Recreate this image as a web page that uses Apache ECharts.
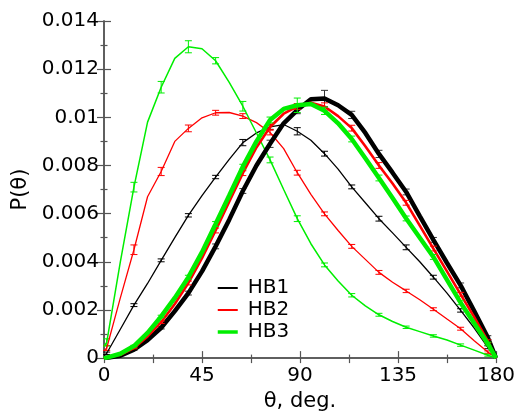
<!DOCTYPE html>
<html>
<head>
<meta charset="utf-8">
<script src="https://cdn.jsdelivr.net/npm/echarts@6/dist/echarts.min.js"></script>
<style>html,body{margin:0;padding:0;background:#fff}#c{width:520px;height:417px}</style>
</head>
<body>
<div id="c"></div>
<script>
// angle (deg) and P(theta) in units of 1e-3
const angles = [0,1.25,7.5,13.75,20,26.25,32.5,38.75,45,51.25,57.5,63.75,70,76.25,82.5,88.75,95,101.25,107.5,113.75,120,126.25,132.5,138.75,145,151.25,157.5,163.75,170,176.25,180];
const hb1 = [0.1,0.2,1.2,2.2,3.1,4.06,5.0,5.93,6.75,7.52,8.25,8.95,9.35,9.6,9.7,9.42,9.05,8.49,7.85,7.11,6.45,5.79,5.2,4.6,4.0,3.36,2.7,1.98,1.25,0.45,0];
const hb2 = [0.3,0.42,2.5,4.5,6.7,7.75,9.0,9.54,9.98,10.19,10.2,10.05,9.78,9.37,8.7,7.7,6.8,5.99,5.3,4.64,4.1,3.56,3.15,2.79,2.42,2.03,1.62,1.22,0.72,0.25,0];
const hb3 = [0.5,0.65,4.0,7.1,9.8,11.25,12.45,12.93,12.85,12.35,11.45,10.46,9.35,8.23,7.0,5.79,4.75,3.87,3.2,2.61,2.17,1.80,1.52,1.28,1.1,0.92,0.75,0.54,0.33,0.12,0];
const thickBlack = [0,0.01,0.1,0.35,0.75,1.26,1.95,2.7,3.6,4.64,5.75,6.94,8.0,8.9,9.75,10.3,10.75,10.78,10.5,10.1,9.35,8.48,7.7,6.9,5.9,4.91,3.95,3.02,1.95,0.85,0];
const thickRed = [0,0.015,0.14,0.42,0.9,1.49,2.25,3.12,4.15,5.3,6.5,7.68,8.75,9.6,10.15,10.45,10.6,10.45,10.05,9.55,8.8,8.0,7.25,6.45,5.5,4.55,3.6,2.65,1.7,0.7,0];
const thickGreen = [0,0.02,0.18,0.5,1.05,1.73,2.5,3.36,4.4,5.57,6.75,7.95,9.0,9.89,10.35,10.5,10.55,10.27,9.75,9.1,8.3,7.48,6.65,5.8,5.0,4.2,3.25,2.3,1.45,0.6,0];
// error bar half-widths at angles[1], angles[3], ... angles[29]
const errHb1 = [0.05,0.06,0.06,0.07,0.07,0.13,0.1,0.15,0.1,0.08,0.1,0.1,0.08,0.07,0.06];
const errHb2 = [0.1,0.2,0.17,0.14,0.1,0.1,0.1,0.1,0.08,0.08,0.08,0.07,0.06,0.06,0.05];
const errHb3 = [0.15,0.2,0.24,0.25,0.13,0.2,0.12,0.12,0.08,0.07,0.06,0.05,0.05,0.05,0.04];
const errBlack = [0.01,0.03,0.05,0.08,0.1,0.1,0.15,0.15,0.34,0.15,0.15,0.12,0.1,0.1,0.08];
const errRed = [0.01,0.03,0.05,0.08,0.1,0.1,0.12,0.12,0.15,0.12,0.12,0.1,0.1,0.08,0.06];
const errGreen = [0.01,0.03,0.05,0.08,0.1,0.1,0.12,0.3,0.15,0.12,0.12,0.1,0.1,0.08,0.06];
const xTicks = [0,45,90,135,180];
const yTickStep = 2;

const FONT = 'DejaVu Sans';
function pairs(vals){ return angles.map((a,i)=>[a, vals[i]]); }
function bars(vals, errs){
  const out = [];
  errs.forEach((e,k)=>{ const i = 1 + 2*k; out.push([angles[i], vals[i]-e, vals[i]+e]); });
  return out;
}
function lineSeries(name, vals, color, width, z){
  return {type:'line', name:name, data:pairs(vals), showSymbol:false, symbol:'none', smooth:false,
    color:color, lineStyle:{color:color, width:width}, itemStyle:{color:color}, z:z, animation:false};
}
function errSeries(vals, errs, color, z){
  return {type:'custom', data:bars(vals, errs), encode:{x:0, y:[1,2]}, z:z, animation:false, silent:true,
    renderItem:function(params, api){
      const x = api.value(0);
      const top = api.coord([x, api.value(2)]);
      const bot = api.coord([x, api.value(1)]);
      const w = 3.5;
      const st = {stroke:color, lineWidth:1};
      return {type:'group', children:[
        {type:'line', shape:{x1:top[0], y1:top[1], x2:bot[0], y2:bot[1]}, style:st},
        {type:'line', shape:{x1:top[0]-w, y1:top[1], x2:top[0]+w, y2:top[1]}, style:st},
        {type:'line', shape:{x1:bot[0]-w, y1:bot[1], x2:bot[0]+w, y2:bot[1]}, style:st}
      ]};
    }};
}
const BLK = '#000000', RED = '#ff0000', GRN = '#00ee00';
const axisCol = '#555';
const chart = echarts.init(document.getElementById('c'), null, {renderer:'canvas'});
chart.setOption({
  animation:false,
  backgroundColor:'#fff',
  grid:{left:104, right:24, top:21, bottom:51, containLabel:false},
  legend:{
    data:[{name:'HB1'},{name:'HB2'},{name:'HB3', lineStyle:{width:3.5}}],
    orient:'vertical', left:211, top:273, itemWidth:20, itemHeight:14, itemGap:2,
    itemStyle:{color:'rgba(0,0,0,0)', borderWidth:0, opacity:0},
    textStyle:{fontFamily:FONT, fontSize:20, color:'#000', lineHeight:20, padding:[0,0,0,5]},
    selectedMode:false
  },
  xAxis:[
    {type:'value', min:0, max:180, interval:45, position:'bottom',
     name:'θ, deg.', nameLocation:'middle', nameGap:26,
     nameTextStyle:{fontFamily:FONT, fontSize:21, color:'#000'},
     axisLine:{show:true, lineStyle:{color:axisCol, width:1.5}},
     axisTick:{show:true, inside:true, length:7, lineStyle:{color:axisCol, width:1.2}},
     minorTick:{show:true, splitNumber:2, length:3.5, lineStyle:{color:axisCol, width:1.2}},
     axisLabel:{fontFamily:FONT, fontSize:20, color:'#000', margin:8,
       customValues: xTicks},
     splitLine:{show:false}},
    {type:'value', min:0, max:180, interval:22.5, position:'top',
     axisLine:{show:true, lineStyle:{color:axisCol, width:1.5}},
     axisTick:{show:true, inside:true, length:5, lineStyle:{color:axisCol, width:1.2}},
     axisLabel:{show:false}, splitLine:{show:false}}
  ],
  yAxis:[
    {type:'value', min:0, max:14, interval:yTickStep, position:'left',
     name:'P(θ)', nameLocation:'middle', nameGap:67, nameRotate:90,
     nameTextStyle:{fontFamily:FONT, fontSize:21, color:'#000'},
     axisLine:{show:true, lineStyle:{color:axisCol, width:1.5}},
     axisTick:{show:true, inside:true, length:7, lineStyle:{color:axisCol, width:1.2}},
     minorTick:{show:true, splitNumber:2, length:3.5, lineStyle:{color:axisCol, width:1.2}},
     axisLabel:{fontFamily:FONT, fontSize:20, color:'#000', margin:5,
       formatter:function(v){ return v === 0 ? '0' : String(Number((v/1000).toFixed(4))); }},
     splitLine:{show:false}},
    {type:'value', min:0, max:14, interval:yTickStep, position:'right',
     axisLine:{show:true, lineStyle:{color:axisCol, width:1.5}},
     axisTick:{show:true, inside:true, length:7, lineStyle:{color:axisCol, width:1.2}},
     minorTick:{show:true, splitNumber:2, length:3.5, lineStyle:{color:axisCol, width:1.2}},
     axisLabel:{show:false}, splitLine:{show:false}}
  ],
  series:[
    lineSeries('HB1', hb1, BLK, 1.3, 2),
    errSeries(hb1, errHb1, BLK, 2),
    lineSeries('HB2', hb2, RED, 1.3, 2),
    errSeries(hb2, errHb2, RED, 2),
    lineSeries('HB3', hb3, GRN, 1.5, 2),
    errSeries(hb3, errHb3, GRN, 2),
    lineSeries('HB1 thick', thickBlack, BLK, 4.5, 3),
    errSeries(thickBlack, errBlack, '#333', 3),
    lineSeries('HB2 thick', thickRed, RED, 2.6, 4),
    errSeries(thickRed, errRed, RED, 4),
    lineSeries('HB3 thick', thickGreen, GRN, 4.5, 5),
    errSeries(thickGreen, errGreen, GRN, 5)
  ]
});
</script>
</body>
</html>
